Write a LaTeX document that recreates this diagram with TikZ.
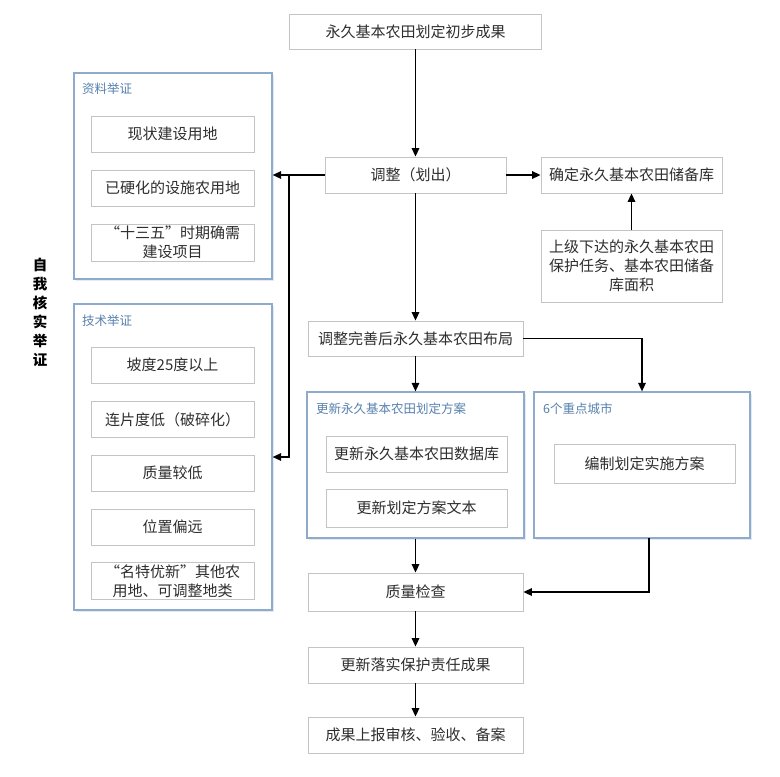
\documentclass[tikz,border=0pt]{standalone}
\usepackage{fontspec}
\newfontfamily\cjk{Noto Sans CJK SC}
\usetikzlibrary{arrows.meta}
\definecolor{boxgray}{HTML}{C4C4C4}
\definecolor{grpblue}{HTML}{8EABCB}
\definecolor{lblblue}{HTML}{5681AE}
\definecolor{txt}{HTML}{2E2E2E}
\tikzset{
  box/.style={draw=boxgray, line width=0.8pt, fill=white, inner sep=2pt, align=center,
     font=\cjk\fontsize{15}{19}\selectfont, text=txt},
  grp/.style={draw=grpblue, line width=1.2pt, fill=white},
  glabel/.style={anchor=west, inner sep=0pt, font=\cjk\fontsize{12.5}{15}\selectfont, text=lblblue},
  arr/.style={draw=black, line width=1.5pt, -{Triangle[length=8.5pt,width=7.5pt]}}
}
\begin{document}
\begin{tikzpicture}[x=1pt,y=-1pt]
\useasboundingbox (0,0) rectangle (780,777);

% group boxes (with faint shadow)
\foreach \a/\b/\c/\d in {74/73/272/279, 74/304/272/610, 307/392/524/538, 534/392/750/538}{
  \fill[grpblue!25] (\a+2,\b+2) rectangle (\c+2,\d+2);
}
\node[grp, minimum width=198, minimum height=206] (g1) at (173,176) {};
\node[grp, minimum width=198, minimum height=306] (g2) at (173,457) {};
\node[grp, minimum width=217, minimum height=146] (g3) at (415.5,465) {};
\node[grp, minimum width=216, minimum height=146] (g4) at (642,465) {};
\node[glabel] (g1l) at (82,89) {资料举证};
\node[glabel] (g2l) at (82,321) {技术举证};
\node[glabel] (g3l) at (316,409) {更新永久基本农田划定方案};
\node[glabel] (g4l) at (543,409) {6个重点城市};

% main column
\node[box, minimum width=252, minimum height=35] (top) at (415.5,31.5) {永久基本农田划定初步成果};
\node[box, minimum width=181, minimum height=36] (adj) at (415.5,175) {调整（划出）};
\node[box, minimum width=181, minimum height=36] (res) at (631.5,175) {确定永久基本农田储备库};
\node[box, minimum width=181, minimum height=72] (up) at (631.5,266) {上级下达的永久基本农田\\保护任务、基本农田储备\\库面积};
\node[box, minimum width=215, minimum height=35] (lay) at (415.5,338.5) {调整完善后永久基本农田布局};
\node[box, minimum width=181, minimum height=36] (db) at (416.5,454) {更新永久基本农田数据库};
\node[box, minimum width=181, minimum height=38] (txtb) at (416.5,508) {更新划定方案文本};
\node[box, minimum width=181, minimum height=39] (plan) at (644.5,463.5) {编制划定实施方案};
\node[box, minimum width=215, minimum height=38] (qc) at (415.5,592) {质量检查};
\node[box, minimum width=215, minimum height=36] (upd) at (415.5,665) {更新落实保护责任成果};
\node[box, minimum width=215, minimum height=36] (fin) at (415.5,735) {成果上报审核、验收、备案};

% left column items
\node[box, minimum width=163, minimum height=36] (a1) at (172.5,134) {现状建设用地};
\node[box, minimum width=163, minimum height=36] (a2) at (172.5,188) {已硬化的设施农用地};
\node[box, minimum width=163, minimum height=37] (a3) at (172.5,242.5) {“十三五”时期确需\\建设项目};
\node[box, minimum width=163, minimum height=36] (b1) at (172.5,365) {坡度25度以上};
\node[box, minimum width=163, minimum height=36] (b2) at (172.5,419.5) {连片度低（破碎化）};
\node[box, minimum width=163, minimum height=36] (b3) at (172.5,473) {质量较低};
\node[box, minimum width=163, minimum height=36] (b4) at (172.5,527) {位置偏远};
\node[box, minimum width=163, minimum height=36] (b5) at (172.5,581) {“名特优新”其他农\\用地、可调整地类};

% vertical label
\node[align=center, inner sep=0pt, font=\cjk\bfseries\fontsize{14.5}{19}\selectfont] (self) at (40,312) {自\\我\\核\\实\\举\\证};

% connectors
\coordinate (j1) at (289,175);
\coordinate (j2) at (289,457);
\coordinate (c6) at (649,538);
\draw[arr] (top) -- (adj);
\draw[arr] (adj) -- (res);
\draw[arr] (up) -- (res);
\draw[arr] (adj.west) -- (g1.east |- adj.west);
\draw[arr] (j1) -- (j2) -- (g2.east |- j2);
\draw[arr] (adj) -- (lay);
\draw[arr] (lay) -- (g3);
\draw[arr] (lay.east) -| (g4.north);
\draw[arr] (g3) -- (qc);
\draw[arr] (c6) |- (qc.east);
\draw[arr] (qc) -- (upd);
\draw[arr] (upd) -- (fin);
\end{tikzpicture}
\end{document}
